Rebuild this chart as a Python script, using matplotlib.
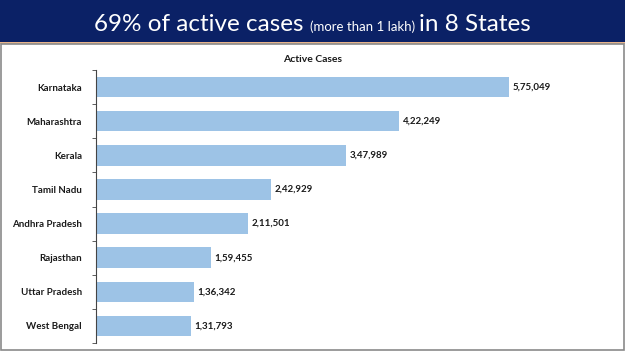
import numpy as np
import matplotlib
matplotlib.use("Agg")
import matplotlib.pyplot as plt
from matplotlib.patches import Rectangle

plt.rcParams['font.family'] = ['Lato', 'DejaVu Sans']

# data
states = ["Karnataka", "Maharashtra", "Kerala", "Tamil Nadu", "Andhra Pradesh",
          "Rajasthan", "Uttar Pradesh", "West Bengal"]
active = [575049, 422249, 347989, 242929, 211501, 159455, 136342, 131793]
labels = ["5,75,049", "4,22,249", "3,47,989", "2,42,929", "2,11,501",
          "1,59,455", "1,36,342", "1,31,793"]

W, H = 625, 351
fig = plt.figure(figsize=(W / 100, H / 100), dpi=100)
fig.patch.set_facecolor("white")

# header band + orange rule
fig.patches.append(Rectangle((0, 1 - 42 / H), 1, 42 / H, transform=fig.transFigure,
                             facecolor="#0b2166", edgecolor="none", zorder=0))
fig.patches.append(Rectangle((0, 1 - 44 / H), 1, 2 / H, transform=fig.transFigure,
                             facecolor="#e8b48c", edgecolor="none", zorder=0))
# panel border
fig.patches.append(Rectangle((1.5 / W, 1.5 / H), 1 - 3 / W, 1 - 44 / H - 1.5 / H,
                             transform=fig.transFigure, facecolor="none",
                             edgecolor="#8a8a8a", linewidth=1.2, zorder=0))

# header text in three pieces of different size
parts = [("69% of active cases ", 17.5), ("(more than 1 lakh) ", 9.5), ("in 8 States", 17.5)]
renderer = fig.canvas.get_renderer()
texts = []
for s, fs in parts:
    t = fig.text(0, 1 - 31 / H, s, color="white", fontsize=fs, va="baseline", ha="left")
    texts.append(t)
widths = [t.get_window_extent(renderer).width for t in texts]
x = (W - sum(widths)) / 2
for t, w in zip(texts, widths):
    t.set_x(x / W)
    x += w

ax = fig.add_axes([96 / W, 1 - 343 / H, (612 - 96) / W, (343 - 70) / H])
y = np.arange(len(states))
ax.barh(y, active, height=0.6, color="#9dc3e6")
for yi, v, lab in zip(y, active, labels):
    ax.text(v + 5000, yi, lab, va="center", ha="left", fontsize=7, fontweight="bold",
            color="#1a1a1a")

ax.set_ylim(len(states) - 0.5, -0.5)
ax.set_xlim(0, 718000)
ax.set_yticks(y)
ax.set_yticklabels(states, fontsize=7, fontweight="bold", color="#1a1a1a")
ax.tick_params(axis="y", which="major", length=0, pad=10)
ax.set_yticks(np.arange(-0.5, len(states), 1), minor=True)
ax.tick_params(axis="y", which="minor", length=3, direction="out", color="#444444")
ax.set_xticks([])
for side in ["top", "right", "bottom"]:
    ax.spines[side].set_visible(False)
ax.spines["left"].set_color("#444444")
ax.spines["left"].set_linewidth(0.8)

fig.text(313 / W, 1 - 60 / H, "Active Cases", ha="center", va="center",
         fontsize=7.5, fontweight="bold", color="#1a1a1a")

fig.savefig("out.png", dpi=100)
